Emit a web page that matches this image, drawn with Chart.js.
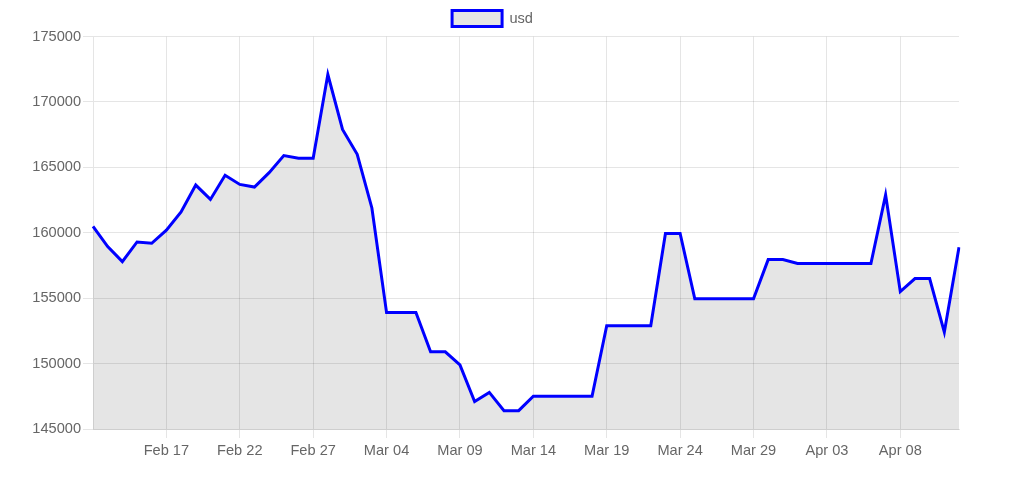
<!DOCTYPE html>
<html>
<head>
<meta charset="utf-8">
<title>usd</title>
<script src="https://cdn.jsdelivr.net/npm/chart.js@4/dist/chart.umd.min.js"></script>
<style>
  html, body { margin: 0; padding: 0; background: #fff; }
</style>
</head>
<body>
<canvas id="usd_chart" width="1009" height="484"></canvas>
<script>
let days = ['Feb 12', 'Feb 13', 'Feb 14', 'Feb 15', 'Feb 16', 'Feb 17', 'Feb 18', 'Feb 19', 'Feb 20', 'Feb 21',
    'Feb 22', 'Feb 23', 'Feb 24', 'Feb 25', 'Feb 26', 'Feb 27', 'Feb 28', 'Mar 01', 'Mar 02', 'Mar 03',
    'Mar 04', 'Mar 05', 'Mar 06', 'Mar 07', 'Mar 08', 'Mar 09', 'Mar 10', 'Mar 11', 'Mar 12', 'Mar 13',
    'Mar 14', 'Mar 15', 'Mar 16', 'Mar 17', 'Mar 18', 'Mar 19', 'Mar 20', 'Mar 21', 'Mar 22', 'Mar 23',
    'Mar 24', 'Mar 25', 'Mar 26', 'Mar 27', 'Mar 28', 'Mar 29', 'Mar 30', 'Mar 31', 'Apr 01', 'Apr 02',
    'Apr 03', 'Apr 04', 'Apr 05', 'Apr 06', 'Apr 07', 'Apr 08', 'Apr 09', 'Apr 10', 'Apr 11', 'Apr 12'];

let usd = [160500, 158950, 157800, 159300, 159200, 160200, 161600, 163650, 162550, 164400,
    163700, 163500, 164600, 165900, 165700, 165700, 172100, 167900, 166000, 161900,
    153900, 153900, 153900, 150900, 150900, 149900, 147100, 147800, 146400, 146400,
    147500, 147500, 147500, 147500, 147500, 152900, 152900, 152900, 152900, 159950,
    159950, 154950, 154950, 154950, 154950, 154950, 157950, 157950, 157650, 157650,
    157650, 157650, 157650, 157650, 162900, 155500, 156500, 156500, 152400, 158900];

let yMin = 145000;
let yMax = 175000;
let yStep = 5000;

let fontSize = 14.6;
let gridColor = 'rgba(0, 0, 0, 0.1)';

let ctx = document.getElementById('usd_chart');
let usdChart = new Chart(ctx, {
    type: 'line',
    data: {
        labels: days,
        datasets: [{
            label: 'usd',
            data: usd,
            borderColor: 'blue',
            backgroundColor: 'rgba(0, 0, 0, 0.1)',
            borderWidth: 3,
            pointRadius: 0,
            tension: 0,
            fill: true
        }]
    },
    options: {
        responsive: false,
        animation: false,
        layout: {
            // left padding only to centre the legend like the original
            padding: { left: 26, right: 50, top: 0, bottom: 0 }
        },
        plugins: {
            legend: {
                labels: {
                    boxWidth: 50,
                    boxHeight: 16,
                    padding: 10.6,
                    color: '#666',
                    font: { size: fontSize }
                }
            },
            tooltip: { enabled: false }
        },
        scales: {
            x: {
                grid: { color: gridColor, tickLength: 9 },
                border: { color: gridColor },
                ticks: {
                    color: '#666',
                    font: { size: fontSize },
                    autoSkip: false,
                    maxRotation: 0,
                    padding: 4,
                    callback: function(value, index) {
                        if (index > 0 && index % 5 === 0) {
                            return days[index];
                        }
                        return null;
                    }
                },
                afterFit: function(scale) {
                    scale.height = 55;
                }
            },
            y: {
                min: yMin,
                max: yMax,
                grid: { color: gridColor, tickLength: 10 },
                border: { color: gridColor },
                ticks: {
                    stepSize: yStep,
                    color: '#666',
                    font: { size: fontSize },
                    padding: 2,
                    callback: function(value) {
                        return String(value);
                    }
                },
                afterFit: function(scale) {
                    scale.width = 67;
                }
            }
        }
    }
});
</script>
</body>
</html>
